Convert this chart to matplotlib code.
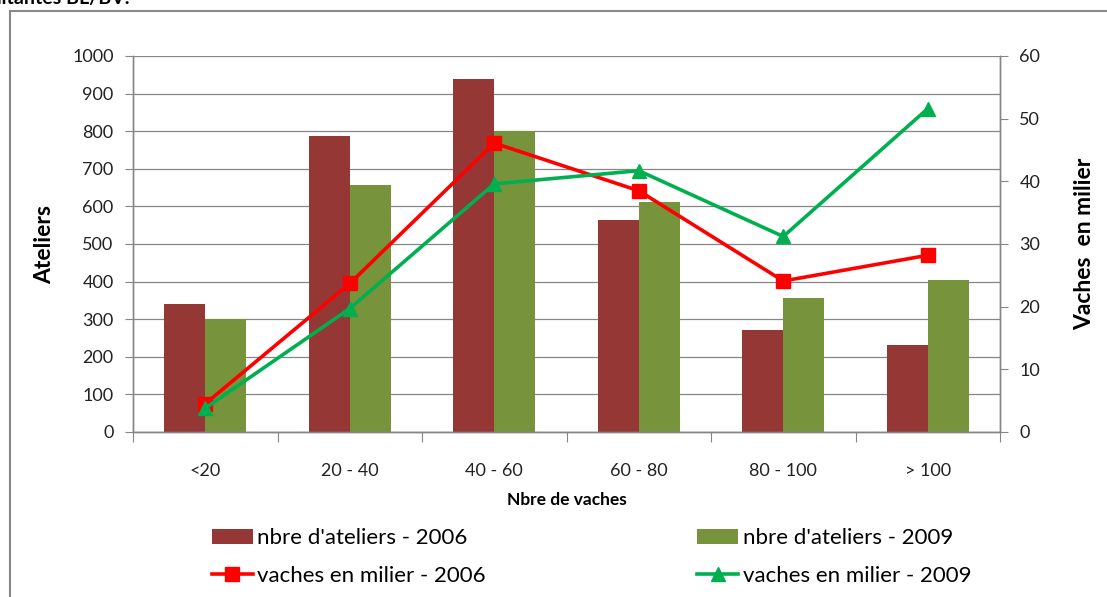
import matplotlib
matplotlib.use('Agg')
import matplotlib.pyplot as plt
from matplotlib.patches import Rectangle
import numpy as np

plt.rcParams['font.family'] = ['Lato', 'DejaVu Sans']

categories = ['<20', '20 - 40', '40 - 60', '60 - 80', '80 - 100', '> 100']
ateliers_2006 = [340, 787, 939, 564, 271, 231]
ateliers_2009 = [300, 657, 800, 612, 356, 404]
vaches_2006 = [4.5, 23.7, 46.1, 38.5, 24.1, 28.2]
vaches_2009 = [3.8, 19.7, 39.6, 41.7, 31.2, 51.6]

W, H = 1107, 597
fig = plt.figure(figsize=(W / 100, H / 100), dpi=100)

# outer chart frame (cropped on right and bottom)
fig.patches.append(Rectangle((10 / W, -0.1), 1.2, 1 - 11 / H + 0.1,
                             transform=fig.transFigure, fill=False,
                             edgecolor='#888888', linewidth=1.5))
# cropped title at the very top
fig.text(130 / W, 1 - 4 / H, 'Vaches allaitantes BL/BV.', ha='right',
         va='baseline', fontsize=14, fontweight='bold', color='black')

ax = fig.add_axes([133 / W, 1 - 432 / H, 867 / W, 376 / H])
ax2 = ax.twinx()

x = np.arange(len(categories))
bw = 0.284
ax.bar(x - bw / 2, ateliers_2006, bw, color='#953735', zorder=2,
       label="nbre d'ateliers - 2006")
ax.bar(x + bw / 2, ateliers_2009, bw, color='#77933C', zorder=2,
       label="nbre d'ateliers - 2009")

ax2.plot(x, vaches_2006, color='#FF0000', lw=2.6, marker='s', ms=10,
         label='vaches en milier - 2006')
ax2.plot(x, vaches_2009, color='#00B050', lw=2.6, marker='^', ms=10,
         label='vaches en milier - 2009')

ax.set_xlim(-0.5, 5.5)
ax.set_ylim(0, 1000)
ax2.set_ylim(0, 60)
ax.set_yticks(range(0, 1001, 100))
ax2.set_yticks(range(0, 61, 10))
ax.yaxis.grid(True, color='#868686', lw=0.9)
ax.set_axisbelow(True)

ax.set_xticks(np.arange(-0.5, 6, 1))
ax.set_xticklabels([])
ax.set_xticks(x, minor=True)
ax.set_xticklabels(categories, minor=True)
ax.tick_params(axis='x', which='major', length=7, color='#868686',
               direction='out')
ax.tick_params(axis='x', which='minor', length=0, pad=22, labelsize=13,
               labelcolor='#222222')
ax.tick_params(axis='y', length=6, color='#868686', labelsize=13,
               labelcolor='#222222', pad=8)
ax2.tick_params(axis='y', length=6, color='#868686', labelsize=13,
                labelcolor='#222222', pad=8)

for a in (ax, ax2):
    a.spines['top'].set_visible(False)
    for s in ('left', 'right', 'bottom'):
        a.spines[s].set_color('#868686')
        a.spines[s].set_linewidth(1)

ax.set_ylabel('Ateliers', fontsize=16.5, fontweight='bold', labelpad=12)
ax2.set_ylabel('Vaches  en milier', fontsize=16.5, fontweight='bold',
               labelpad=24)
ax.set_xlabel('Nbre de vaches', fontsize=12.5, fontweight='bold',
              labelpad=10)

h1, l1 = ax.get_legend_handles_labels()
h2, l2 = ax2.get_legend_handles_labels()
handles = [h1[0], h2[0], h1[1], h2[1]]
labels = [l1[0], l2[0], l1[1], l2[1]]
fig.legend(handles, labels, ncol=2, loc='center left',
           bbox_to_anchor=(203 / W, 1 - 557 / H), frameon=False,
           fontsize=16, handlelength=1.85, handleheight=0.65,
           handletextpad=0.2, columnspacing=9.5, labelspacing=0.78,
           borderaxespad=0)

fig.savefig('out.png', dpi=100)
